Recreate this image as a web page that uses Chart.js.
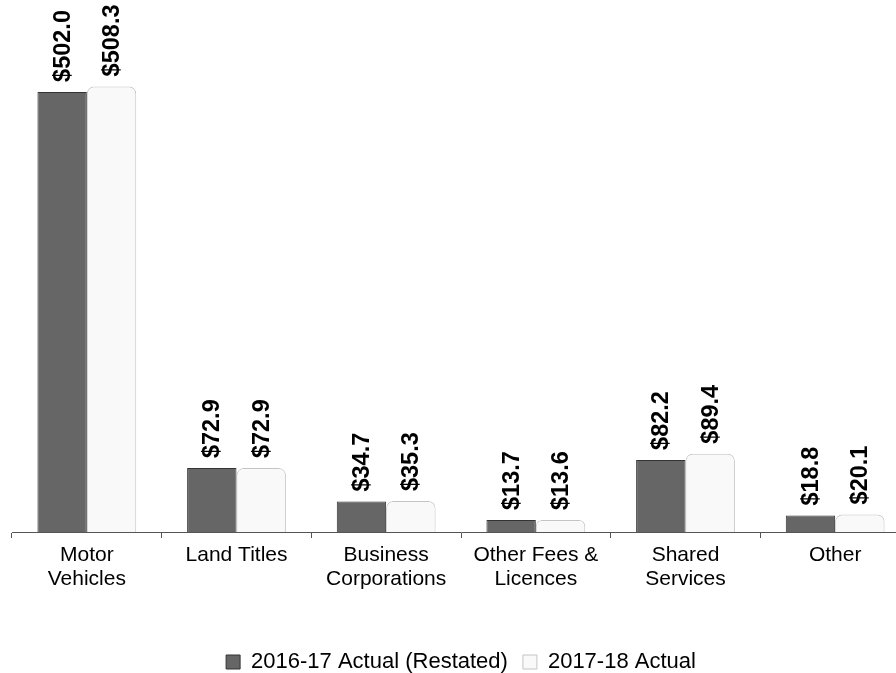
<!DOCTYPE html>
<html lang="en">
<head>
  <meta charset="UTF-8">
  <title>Revenue by Source</title>
  <script src="https://cdn.jsdelivr.net/npm/chart.js"></script>
  <style>
    html, body { margin: 0; padding: 0; background: #fff; overflow: hidden; }
    #wrap { width: 896px; height: 673px; overflow: hidden; }
    canvas { display: block; }
  </style>
</head>
<body>
  <div id="wrap">
    <canvas id="revChart" width="910" height="673"></canvas>
  </div>
  <script>
    const categories = [
      ['Motor', 'Vehicles'],
      ['Land Titles'],
      ['Business', 'Corporations'],
      ['Other Fees &', 'Licences'],
      ['Shared', 'Services'],
      ['Other']
    ];
    const seriesNames = ['2016-17 Actual (Restated)', '2017-18 Actual'];
    const actual1617 = [502.0, 72.9, 34.7, 13.7, 82.2, 18.8];
    const actual1718 = [508.3, 72.9, 35.3, 13.6, 89.4, 20.1];

    const FONT = "'Liberation Sans', Arial, sans-serif";

    // rotated "$x.x" labels sitting above each bar
    const valueLabels = {
      id: 'valueLabels',
      afterDatasetsDraw(chart) {
        const ctx = chart.ctx;
        ctx.save();
        ctx.font = 'bold 23.5px ' + FONT;
        ctx.fillStyle = '#000';
        ctx.textAlign = 'left';
        ctx.textBaseline = 'middle';
        chart.data.datasets.forEach((ds, i) => {
          chart.getDatasetMeta(i).data.forEach((bar, j) => {
            ctx.save();
            ctx.translate(bar.x, bar.y - 10);
            ctx.rotate(-Math.PI / 2);
            ctx.fillText('$' + ds.data[j].toFixed(1), 0, 1);
            ctx.restore();
          });
        });
        ctx.restore();
      }
    };

    const ctx = document.getElementById('revChart').getContext('2d');
    const revChart = new Chart(ctx, {
      type: 'bar',
      data: {
        labels: categories,
        datasets: [{
          label: seriesNames[0],
          data: actual1617,
          backgroundColor: '#666666',
          borderColor: '#333333',
          borderWidth: 1,
          categoryPercentage: 0.66,
          barPercentage: 1.0
        }, {
          label: seriesNames[1],
          data: actual1718,
          backgroundColor: '#f9f9f9',
          borderColor: '#c4c4c4',
          borderWidth: 1,
          borderRadius: { topLeft: 7, topRight: 7 },
          borderSkipped: 'bottom',
          categoryPercentage: 0.66,
          barPercentage: 1.0
        }]
      },
      options: {
        responsive: false,
        animation: false,
        devicePixelRatio: 1,
        layout: { padding: { left: 12, right: 0, top: 6, bottom: -10 } },
        plugins: {
          tooltip: { enabled: false },
          legend: {
            position: 'bottom',
            labels: {
              color: '#000',
              font: { family: FONT, size: 22 },
              boxWidth: 14,
              boxHeight: 14,
              padding: 15
            }
          }
        },
        scales: {
          x: {
            grid: {
              display: true,
              drawOnChartArea: false,
              drawTicks: true,
              tickLength: 6,
              color: '#555'
            },
            border: { display: true, color: '#555', width: 1 },
            ticks: {
              color: '#000',
              font: { family: FONT, size: 21, lineHeight: 1.15 },
              maxRotation: 0,
              autoSkip: false,
              padding: 5
            },
            afterFit(scale) { scale.height = 104; }
          },
          y: {
            display: false,
            min: 0,
            max: 600
          }
        }
      },
      plugins: [valueLabels]
    });
  </script>
</body>
</html>
